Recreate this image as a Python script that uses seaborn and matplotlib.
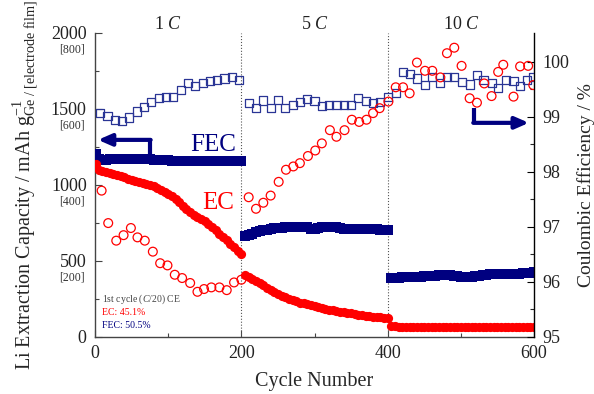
import numpy as np
import pandas as pd
import matplotlib
matplotlib.use("Agg")
from matplotlib import pyplot as plt
from matplotlib import transforms
import seaborn as sns

# ---- data ----
# filled symbols: Li extraction capacity (left axis), every 5 cycles
cyc_cap = [1] + list(range(5, 601, 5))

fec_cap = [1200, 1170, 1165, 1165, 1168, 1168, 1170, 1170, 1170, 1172, 1172,
           1170, 1170, 1170, 1168, 1168, 1166, 1165, 1165, 1163, 1162,
           1160, 1160, 1160, 1158, 1158, 1157, 1157, 1157, 1157, 1156,
           1156, 1156, 1156, 1156, 1157, 1157, 1157, 1157, 1157, 1157,
           # 5 C
           665, 672, 680, 688, 695, 700, 705, 710, 713, 716,
           718, 720, 722, 724, 725, 726, 725, 724, 712, 708,
           718, 724, 725, 724, 722, 720, 716, 712, 710, 710,
           710, 709, 710, 709, 708, 708, 707, 706, 704, 702,
           # 10 C
           386, 388, 390, 391, 392, 393, 394, 396, 397, 398,
           399, 400, 402, 404, 406, 407, 405, 402, 398, 396,
           394, 394, 395, 398, 402, 406, 410, 412, 414, 414,
           413, 412, 412, 413, 414, 416, 418, 420, 422, 424]

ec_cap = [1135, 1100, 1090, 1085, 1080, 1072, 1065, 1058, 1050, 1040, 1032,
          1025, 1020, 1015, 1008, 1000, 990, 978, 965, 952, 940,
          925, 910, 885, 860, 840, 820, 805, 790, 775, 760,
          742, 725, 702, 680, 658, 635, 612, 590, 568, 546,
          # 5 C
          410, 395, 382, 368, 352, 338, 322, 308, 295, 282,
          270, 260, 250, 242, 234, 226, 220, 214, 208, 203,
          196, 190, 185, 180, 175, 170, 166, 162, 158, 154,
          150, 146, 143, 140, 137, 134, 131, 128, 126, 122,
          # 10 C
          72, 70, 68, 68, 67, 67, 66, 66, 66, 65,
          66, 66, 65, 65, 65, 64, 65, 65, 64, 64,
          64, 65, 64, 64, 63, 64, 64, 63, 63, 64,
          63, 63, 63, 64, 63, 63, 62, 63, 63, 63]

# open symbols: coulombic efficiency (right axis)
cyc_fec_ce = [7, 17, 27, 37, 47, 57, 67, 77, 87, 97, 107, 117, 127, 137, 147,
              157, 167, 177, 187, 197,
              210, 220, 230, 240, 250, 260, 270, 280, 290, 300, 310, 320, 330,
              340, 350, 360, 370, 380, 390,
              401, 411, 421, 430, 440, 451, 460, 471, 481, 491, 501, 512, 522,
              531, 542, 551, 562, 572, 581, 590, 599]
fec_ce = [99.07, 99.01, 98.95, 98.93, 98.99, 99.10, 99.18, 99.28, 99.34, 99.37,
          99.36, 99.49, 99.61, 99.56, 99.62, 99.65, 99.67, 99.70, 99.72, 99.68,
          99.25, 99.16, 99.30, 99.16, 99.31, 99.16, 99.22, 99.28, 99.32, 99.29,
          99.20, 99.22, 99.22, 99.22, 99.22, 99.34, 99.29, 99.25, 99.28,
          99.37, 99.43, 99.81, 99.78, 99.70, 99.58, 99.72, 99.61, 99.73, 99.73,
          99.64, 99.59, 99.76, 99.67, 99.61, 99.52, 99.67, 99.65, 99.56, 99.67,
          99.72]

cyc_ec_ce = [9, 18, 29, 39, 49, 58, 68, 79, 89, 99, 109, 119, 130, 140, 149,
             159, 170, 180, 190, 200,
             210, 220, 230, 240, 251, 261, 271, 280, 291, 301, 310, 321, 330,
             341, 351, 361, 371, 380, 389,
             401, 411, 421, 430, 440, 451, 461, 472, 481, 491, 501, 512, 522,
             532, 542, 551, 558, 572, 581, 592, 599]
ec_ce = [97.66, 97.07, 96.75, 96.85, 96.98, 96.81, 96.75, 96.55, 96.34, 96.30,
         96.13, 96.07, 95.98, 95.82, 95.87, 95.90, 95.90, 95.85, 95.99, 96.04,
         97.54, 97.33, 97.44, 97.57, 97.82, 98.04, 98.10, 98.16, 98.29, 98.39,
         98.52, 98.76, 98.64, 98.76, 98.95, 98.91, 98.95, 99.07, 99.16,
         99.28, 99.54, 99.54, 99.43, 99.99, 99.84, 99.84, 99.72, 100.16, 100.26,
         99.93, 99.34, 99.26, 99.61, 99.38, 99.82, 99.95, 99.37, 99.92, 99.93,
         99.58]

left_ticks = [0, 500, 1000, 1500, 2000]
film_labels = ['', '[200]', '[400]', '[600]', '[800]']
rate_labels = ['1 $C$', '5 $C$', '10 $C$']
rate_pos = [100, 300, 500]

# ---- style ----
sns.set_style("ticks")
plt.rcParams['font.family'] = ['Liberation Serif', 'DejaVu Serif']
plt.rcParams['mathtext.fontset'] = 'custom'
plt.rcParams['mathtext.rm'] = 'Liberation Serif'
plt.rcParams['mathtext.it'] = 'Liberation Serif:italic'
plt.rcParams['xtick.direction'] = 'in'
plt.rcParams['ytick.direction'] = 'in'

navy = '#000080'
blue_open = '#2a3595'
red = '#ff0000'

cap = pd.DataFrame({'cycle': cyc_cap, 'FEC': fec_cap, 'EC': ec_cap})
ce_f = pd.DataFrame({'cycle': cyc_fec_ce, 'ce': fec_ce})
ce_e = pd.DataFrame({'cycle': cyc_ec_ce, 'ce': ec_ce})

fig = plt.figure(figsize=(5.94, 3.94), dpi=100)
ax = fig.add_axes([0.160, 0.145, 0.739, 0.7716])
ax2 = ax.twinx()

sns.scatterplot(x='cycle', y='FEC', data=cap, ax=ax, marker='s', s=46,
                color=navy, edgecolor=navy, linewidth=0, zorder=3)
sns.scatterplot(x='cycle', y='EC', data=cap, ax=ax, marker='o', s=44,
                color=red, edgecolor=red, linewidth=0, zorder=3)

sns.scatterplot(x='cycle', y='ce', data=ce_f, ax=ax2, marker='s', s=34,
                facecolor='none', edgecolor=blue_open, linewidth=0.9, zorder=3)
sns.scatterplot(x='cycle', y='ce', data=ce_e, ax=ax2, marker='o', s=40,
                facecolor='none', edgecolor=red, linewidth=0.9, zorder=3)

ax.set_xlim(0, 600)
ax.set_ylim(0, 2000)
ax2.set_ylim(95, 100.53)

for xv in [200, 400]:
    ax.axvline(xv, color='#555555', ls=':', lw=0.8, zorder=1)

# axes cosmetics
ax.spines['top'].set_visible(False)
ax2.spines['top'].set_visible(False)
ax.spines['right'].set_visible(False)
ax2.spines['left'].set_visible(False)
ax2.spines['bottom'].set_visible(False)
for s in ['left', 'bottom']:
    ax.spines[s].set_color('#444444')
    ax.spines[s].set_linewidth(1.0)
ax2.spines['right'].set_color('black')
ax2.spines['right'].set_linewidth(1.0)

ax.set_xticks([0, 200, 400, 600])
ax.set_xticks([100, 300, 500], minor=True)
ax.set_yticks(left_ticks)
ax.set_yticks([250, 750, 1250, 1750], minor=True)
ax2.set_yticks([95, 96, 97, 98, 99, 100])
ax2.set_yticks([95.5, 96.5, 97.5, 98.5, 99.5], minor=True)
ax.tick_params(axis='both', which='major', length=5, width=0.8,
               colors='#444444', labelcolor='#222222', labelsize=13, pad=6)
ax.tick_params(axis='both', which='minor', length=3, width=0.8, colors='#444444')
ax.tick_params(axis='x', which='both', top=False)
ax.tick_params(axis='y', which='both', right=False)
ax2.tick_params(axis='y', which='major', length=5, width=0.8, labelsize=13,
                pad=6, colors='black', labelcolor='#222222')
ax2.tick_params(axis='y', which='minor', length=3, width=0.8)

# electrode-film scale in brackets under the Ge scale
trans = transforms.blended_transform_factory(ax.transAxes, ax.transData)
for v, lab in zip(left_ticks, film_labels):
    if lab:
        ax.annotate(lab, xy=(0, v), xycoords=trans, xytext=(-7.5, -12),
                    textcoords='offset points', ha='right', va='center',
                    fontsize=8.5, color='#333333')

ax.set_xlabel('Cycle Number', fontsize=14.5, labelpad=7)
ax.set_ylabel(r'Li Extraction Capacity / mAh g$_{\mathrm{Ge\ /\ [electrode\ film]}}^{-1}$',
              fontsize=14.5, labelpad=8)
ax2.set_ylabel('Coulombic Efficiency / %', fontsize=14, labelpad=6)

for xp, lab in zip(rate_pos, rate_labels):
    ax.text(xp, 2055, lab, ha='center', va='center', fontsize=13, color='#222222')

ax.text(161, 1262, 'FEC', color=navy, fontsize=18, ha='center', va='center')
ax.text(168, 882, 'EC', color=red, fontsize=18, ha='center', va='center')

# arrows pointing to the axes
ax.plot([75, 75], [1204, 1296], color=navy, lw=3, solid_capstyle='butt', zorder=4)
ax.annotate('', xy=(4, 1296), xytext=(76, 1296),
            arrowprops=dict(arrowstyle='-|>,head_length=0.8,head_width=0.35',
                            color=navy, lw=3, shrinkA=0, shrinkB=0), zorder=4)
ax.plot([518, 518], [1507, 1408], color=navy, lw=3, solid_capstyle='butt', zorder=4)
ax.annotate('', xy=(593, 1408), xytext=(517, 1408),
            arrowprops=dict(arrowstyle='-|>,head_length=0.8,head_width=0.35',
                            color=navy, lw=3, shrinkA=0, shrinkB=0), zorder=4)

# first-cycle efficiency note
ax.text(10, 250, '1st cycle ($C$/20) CE', fontsize=7, color='#444444', va='center')
ax.text(10, 160, 'EC: 45.1%', fontsize=7, color=red, va='center')
ax.text(10, 74, 'FEC: 50.5%', fontsize=7, color=navy, va='center')

plt.savefig('out.png', dpi=100)
